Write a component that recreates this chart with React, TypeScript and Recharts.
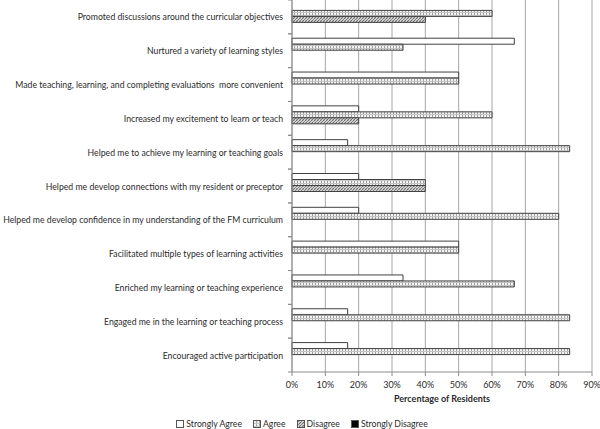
import React from 'react';
import { BarChart, Bar, XAxis, YAxis, CartesianGrid, Legend } from 'recharts';

const categories = [
  'Promoted discussions around the curricular objectives',
  'Nurtured a variety of learning styles',
  'Made teaching, learning, and completing evaluations  more convenient',
  'Increased my excitement to learn or teach',
  'Helped me to achieve my learning or teaching goals',
  'Helped me develop connections with my resident or preceptor',
  'Helped me develop confidence in my understanding of the FM curriculum',
  'Facilitated multiple types of learning activities',
  'Enriched my learning or teaching experience',
  'Engaged me in the learning or teaching process',
  'Encouraged active participation',
];
const stronglyAgree = [0, 66.7, 50, 20, 16.7, 20, 20, 50, 33.3, 16.7, 16.7];
const agree = [60, 33.3, 50, 60, 83.3, 40, 80, 50, 66.7, 83.3, 83.3];
const disagree = [40, 0, 0, 20, 0, 40, 0, 0, 0, 0, 0];
const stronglyDisagree = [0, 0, 0, 0, 0, 0, 0, 0, 0, 0, 0];
const xTicks = [0, 10, 20, 30, 40, 50, 60, 70, 80, 90];
const seriesNames = ['Strongly Agree', 'Agree', 'Disagree', 'Strongly Disagree'];

const data = categories.map((c, i) => ({
  name: c,
  sa: stronglyAgree[i],
  a: agree[i],
  d: disagree[i],
  sd: stronglyDisagree[i],
}));

const FONT = 'Lato, "DejaVu Sans Condensed", sans-serif';
const FS = 8.7;
const TEXT = '#2b2b2b';
const AXIS = '#8c8c8c';
const PLOT_H = 372;
const BAND = PLOT_H / categories.length;

const fills = ['#ffffff', 'url(#patAgree)', 'url(#patDisagree)', '#000000'];

const YTick = (props: any) => {
  const { x, y, payload } = props;
  return (
    <g>
      <text x={x} y={y} textAnchor="end" dominantBaseline="central" fontFamily={FONT} fontSize={FS} fill={TEXT} style={{ whiteSpace: 'pre' }}>
        {payload.value}
      </text>
      <line x1={x + 5} x2={x + 9} y1={y - BAND / 2} y2={y - BAND / 2} stroke={AXIS} />
      <line x1={x + 5} x2={x + 9} y1={y + BAND / 2} y2={y + BAND / 2} stroke={AXIS} />
    </g>
  );
};

const LegendContent = () => (
  <div style={{ height: 25, display: 'flex', alignItems: 'flex-end', justifyContent: 'center', paddingLeft: 12, boxSizing: 'border-box', fontFamily: FONT, fontSize: 8.7, color: TEXT, lineHeight: '10px' }}>
    {seriesNames.map((n, i) => (
      <span key={n} style={{ display: 'inline-flex', alignItems: 'center', marginRight: i < 3 ? 11 : 0 }}>
        <svg width={8} height={8} style={{ marginRight: 2 }}>
          <rect x={0.5} y={0.5} width={7} height={7} fill={fills[i]} stroke="#555" />
        </svg>
        {n}
      </span>
    ))}
  </div>
);

export default function App() {
  return (
    <div style={{ position: 'absolute', left: 0, top: 0, width: 600, height: 429, background: '#fff' }}>
      <BarChart
        width={600}
        height={429}
        data={data}
        layout="vertical"
        margin={{ top: 0, right: 8, left: 0, bottom: 0 }}
        barCategoryGap="13%"
        barGap={0}
      >
        <defs>
          <pattern id="patAgree" width="3" height="3" patternUnits="userSpaceOnUse">
            <rect width="3" height="3" fill="#f2f2f2" />
            <line x1="0.5" y1="0" x2="0.5" y2="3" stroke="#a0a0a0" strokeWidth="1" />
            <line x1="0" y1="0.5" x2="3" y2="0.5" stroke="#c4c4c4" strokeWidth="1" />
          </pattern>
          <pattern id="patDisagree" width="3" height="3" patternUnits="userSpaceOnUse">
            <rect width="3" height="3" fill="#d2d2d2" />
            <path d="M0,3 L3,0 M-1,1 L1,-1 M2,4 L4,2" stroke="#6a6a6a" strokeWidth="0.9" />
            <path d="M0,0 L3,3" stroke="#9a9a9a" strokeWidth="0.5" />
          </pattern>
        </defs>
        <CartesianGrid horizontal={false} stroke="#a6a6a6" />
        <XAxis
          type="number"
          domain={[0, 90]}
          ticks={xTicks}
          tickFormatter={(v: number) => `${v}%`}
          axisLine={{ stroke: AXIS }}
          tickLine={{ stroke: AXIS }}
          tickSize={4}
          tickMargin={6}
          tick={{ fontFamily: FONT, fontSize: 9, fill: TEXT }}
          height={32}
          label={{ value: 'Percentage of Residents', position: 'insideBottom', offset: 2, fontFamily: FONT, fontSize: 9, fontWeight: 'bold', fill: TEXT }}
          interval={0}
        />
        <YAxis
          type="category"
          dataKey="name"
          width={292}
          axisLine={{ stroke: AXIS }}
          tickLine={false}
          tickSize={4}
          tickMargin={5}
          tick={<YTick />}
          interval={0}
        />
        <Legend verticalAlign="bottom" content={<LegendContent />} />
        <Bar dataKey="sa" name={seriesNames[0]} fill={fills[0]} stroke="#404040" strokeWidth={1} isAnimationActive={false} />
        <Bar dataKey="a" name={seriesNames[1]} fill={fills[1]} stroke="#404040" strokeWidth={1} isAnimationActive={false} />
        <Bar dataKey="d" name={seriesNames[2]} fill={fills[2]} stroke="#404040" strokeWidth={1} isAnimationActive={false} />
        <Bar dataKey="sd" name={seriesNames[3]} fill={fills[3]} stroke="#404040" strokeWidth={1} isAnimationActive={false} />
      </BarChart>
    </div>
  );
}
